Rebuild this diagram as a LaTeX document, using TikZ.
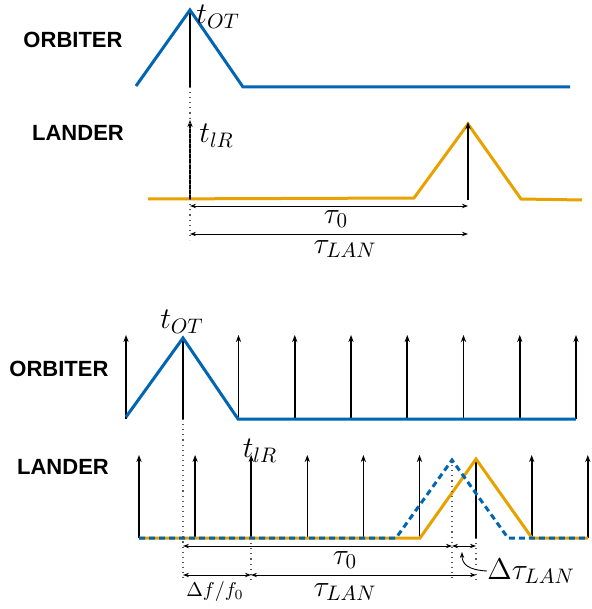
\RequirePackage{fix-cm}
\documentclass[tikz,border=0pt]{standalone}
\usepackage{amsmath}
\usepackage{fontspec}
\newfontfamily\labelfont{Liberation Sans}
\usetikzlibrary{arrows.meta}

\definecolor{orbblue}{RGB}{0,102,180}
\definecolor{lanorange}{RGB}{232,162,0}

\tikzset{
  orbline/.style={line width=1.5pt, orbblue},
  lanline/.style={line width=1.5pt, lanorange},
  landash/.style={line width=1.5pt, orbblue, dash pattern=on 3pt off 2pt},
  pulse/.style={-{Stealth[length=3.5pt,width=2.6pt]}, line width=0.8pt},
  peakline/.style={line width=1.1pt},
  dimline/.style={{Stealth[length=3pt,width=2.2pt]}-{Stealth[length=3pt,width=2.2pt]}, line width=0.45pt},
  guide/.style={dotted, line width=0.55pt, black!65},
  sidelabel/.style={font=\labelfont\bfseries\fontsize{11}{13}\selectfont},
  mathlabel/.style={font=\fontsize{15}{18}\selectfont, inner sep=0pt},
  smalllabel/.style={font=\fontsize{10}{12}\selectfont, inner sep=0pt}
}

\begin{document}
\begin{tikzpicture}[x=0.5pt, y=-0.5pt]
    \useasboundingbox (0,0) rectangle (591,609);

    % upper panel
    \node[sidelabel] (orbA) at (73,40) {ORBITER};
    \node[sidelabel] (lanA) at (78,133) {LANDER};

    \coordinate (otA) at (190,10);
    \coordinate (otAb) at (190,87);
    \coordinate (lrA) at (190,120);
    \coordinate (lrAb) at (190,199);
    \coordinate (pkA) at (468,122);
    \coordinate (pkAb) at (468,200);
    \coordinate (gdA) at (190,240);

    \draw[peakline] (otA) -- (otAb);
    \draw[orbline] (136,86) -- (otA) -- (243,87) -- (570,87);
    \draw[lanline] (148,199) -- (414,198) -- (468,124) -- (521,199) -- (582,200);
    \draw[pulse] (lrAb) -- (lrA);
    \draw[pulse] (pkAb) -- (pkA);
    \draw[guide] (otAb) -- (gdA);

    \node[mathlabel, anchor=west] (tot1) at (196,17) {$t_{OT}$};
    \node[mathlabel, anchor=west] (tlr1) at (199,136) {$t_{lR}$};

    \coordinate (dA1) at (190,206);
    \coordinate (dA2) at (468,206);
    \coordinate (dA3) at (190,234);
    \coordinate (dA4) at (468,234);
    \draw[dimline] (dA1) -- (dA2);
    \draw[dimline] (dA3) -- (dA4);
    \node[mathlabel] (tau1) at (336,219) {$\tau_0$};
    \node[mathlabel] (tlan1) at (345,249) {$\tau_{LAN}$};

    % lower panel
    \node[sidelabel] (orbB) at (59,369) {ORBITER};
    \node[sidelabel] (lanB) at (63,467) {LANDER};

    \foreach \i in {0,2,3,4,5,6,7,8}
        \draw[pulse] ({126+56.25*\i},419) -- ({126+56.25*\i},335);
    \coordinate (otB) at (183,338);
    \coordinate (otBb) at (183,419);
    \draw[peakline] (otB) -- (otBb);
    \draw[orbline] (126,417) -- (otB) -- (238,419) -- (576,419);

    \foreach \i in {0,1,2,3,4,5,7,8}
        \draw[pulse] ({139+56.1*\i},538) -- ({139+56.1*\i},455);
    \coordinate (pkB) at (476,459);
    \coordinate (pkBb) at (476,538);
    \coordinate (pkC) at (452,460);
    \draw[peakline] (pkB) -- (pkBb);
    \draw[lanline] (139,538) -- (420,538) -- (pkB) -- (532,538) -- (588,538);
    \draw[landash] (139,538) -- (396,538) -- (pkC) -- (508,538) -- (588,538);

    \node[mathlabel] (tot2) at (182,322) {$t_{OT}$};
    \node[mathlabel] (tlr2) at (260,451) {$t_{lR}$};

    % guides and spans
    \coordinate (lrB) at (251,538);
    \coordinate (gd1) at (183,580);
    \coordinate (gd2) at (251,580);
    \coordinate (gd3) at (452,580);
    \coordinate (gd4) at (476,580);
    \draw[guide] (otBb) -- (gd1);
    \draw[guide] (lrB) -- (gd2);
    \draw[guide] (pkC) -- (gd3);
    \draw[guide] (pkBb) -- (gd4);

    \coordinate (dB1) at (183,546);
    \coordinate (dB2) at (452,546);
    \coordinate (dB3) at (476,546);
    \coordinate (dB4) at (183,575);
    \coordinate (dB5) at (251,575);
    \coordinate (dB6) at (476,575);
    \draw[dimline] (dB1) -- (dB2);
    \draw[dimline] (dB2) -- (dB3);
    \draw[dimline] (dB4) -- (dB5);
    \draw[dimline] (dB5) -- (dB6);

    \node[mathlabel] (tau2) at (345,560) {$\tau_0$};
    \node[smalllabel] (dff) at (215,591) {$\Delta f/f_0$};
    \node[mathlabel] (tlan2) at (345,592) {$\tau_{LAN}$};
    \node[mathlabel, anchor=west] (dtl) at (487,571) {$\Delta\tau_{LAN}$};
    \coordinate (dtlend) at (462,552);
    \draw[-{Stealth[length=3pt,width=2.2pt]}, line width=0.45pt]
        (dtl.west) .. controls (468,570) and (462,564) .. (dtlend);
\end{tikzpicture}
\end{document}
